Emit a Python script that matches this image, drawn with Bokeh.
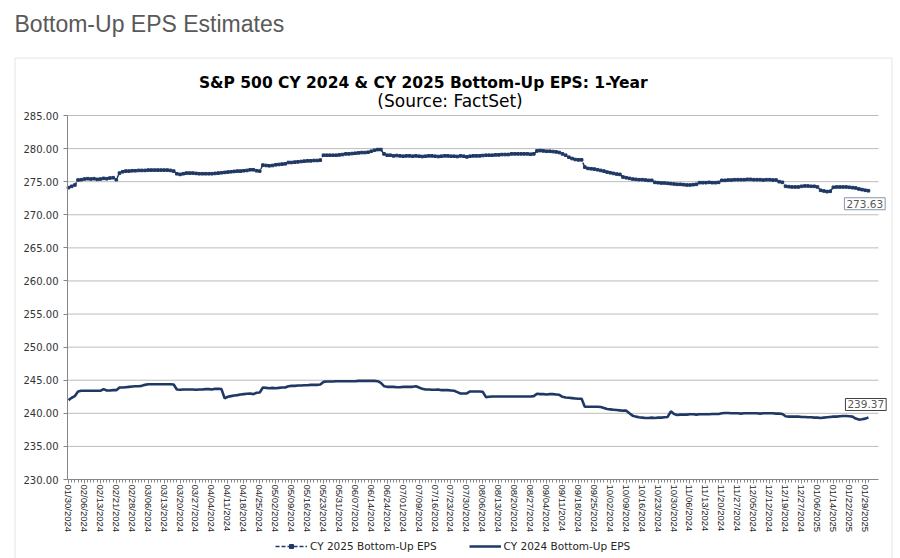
from bokeh.plotting import figure
from bokeh.models import (Range1d, FixedTicker, NumeralTickFormatter, Label, Legend,
                          LegendItem, BoxAnnotation)
from bokeh.embed import file_html
from bokeh.resources import INLINE

# ---------------- data ----------------
tick_labels = ["01/30/2024", "02/06/2024", "02/13/2024", "02/21/2024", "02/28/2024", "03/06/2024",
               "03/13/2024", "03/20/2024", "03/27/2024", "04/04/2024", "04/11/2024", "04/18/2024",
               "04/25/2024", "05/02/2024", "05/09/2024", "05/16/2024", "05/23/2024", "05/31/2024",
               "06/07/2024", "06/14/2024", "06/24/2024", "07/01/2024", "07/09/2024", "07/16/2024",
               "07/23/2024", "07/30/2024", "08/06/2024", "08/13/2024", "08/20/2024", "08/27/2024",
               "09/04/2024", "09/11/2024", "09/18/2024", "09/25/2024", "10/02/2024", "10/09/2024",
               "10/16/2024", "10/23/2024", "10/30/2024", "11/06/2024", "11/13/2024", "11/20/2024",
               "11/27/2024", "12/05/2024", "12/12/2024", "12/19/2024", "12/27/2024", "01/06/2025",
               "01/14/2025", "01/22/2025", "01/29/2025"]

cy2025_eps = [
    274.1, 274.3, 274.5, 275.25, 275.3, 275.4, 275.45, 275.4, 275.45, 275.35,
    275.4, 275.5, 275.45, 275.55, 275.6, 275.3, 276.3, 276.5, 276.6, 276.6,
    276.65, 276.65, 276.7, 276.7, 276.7, 276.75, 276.75, 276.75, 276.75, 276.75,
    276.75, 276.75, 276.7, 276.6, 276.2, 276.1, 276.2, 276.3, 276.3, 276.3,
    276.25, 276.2, 276.2, 276.2, 276.2, 276.2, 276.25, 276.3, 276.35, 276.4,
    276.45, 276.5, 276.55, 276.6, 276.6, 276.65, 276.7, 276.8, 276.8, 276.65,
    276.6, 277.5, 277.45, 277.4, 277.45, 277.55, 277.6, 277.65, 277.7, 277.9,
    277.9, 277.95, 278.0, 278.05, 278.1, 278.15, 278.15, 278.2, 278.2, 278.25,
    279.0, 279.0, 279.0, 279.0, 279.0, 279.05, 279.1, 279.2, 279.2, 279.25,
    279.3, 279.35, 279.4, 279.4, 279.45, 279.6, 279.75, 279.85, 279.85, 279.2,
    279.0, 279.0, 278.9, 278.95, 278.9, 278.85, 278.9, 278.9, 278.85, 278.9,
    278.85, 278.8, 278.85, 278.9, 278.9, 278.85, 278.8, 278.85, 278.9, 278.9,
    278.85, 278.85, 278.8, 278.9, 278.85, 278.75, 278.85, 278.9, 278.9, 278.9,
    278.95, 279.0, 279.0, 279.0, 279.05, 279.05, 279.1, 279.1, 279.1, 279.2,
    279.2, 279.2, 279.2, 279.2, 279.2, 279.15, 279.2, 279.65, 279.7, 279.65,
    279.6, 279.6, 279.55, 279.5, 279.4, 279.2, 279.0, 278.7, 278.5, 278.35,
    278.3, 278.3, 277.2, 277.0, 276.95, 276.9, 276.8, 276.7, 276.6, 276.45,
    276.35, 276.25, 276.15, 276.1, 275.7, 275.6, 275.5, 275.4, 275.35, 275.3,
    275.3, 275.25, 275.2, 275.2, 274.9, 274.85, 274.8, 274.8, 274.75, 274.7,
    274.65, 274.6, 274.6, 274.55, 274.5, 274.5, 274.55, 274.6, 274.85, 274.85,
    274.85, 274.9, 274.85, 274.85, 274.9, 275.2, 275.2, 275.25, 275.25, 275.3,
    275.3, 275.3, 275.3, 275.35, 275.35, 275.3, 275.3, 275.3, 275.25, 275.3,
    275.3, 275.25, 275.25, 275.0, 274.9, 274.3, 274.25, 274.2, 274.2, 274.2,
    274.3, 274.35, 274.35, 274.3, 274.3, 274.2, 273.7, 273.6, 273.5, 273.55,
    274.15, 274.2, 274.2, 274.2, 274.2, 274.15, 274.1, 274.05, 273.9, 273.8,
    273.7, 273.63,
]

cy2024_eps = [
    242.0, 242.35, 242.6, 243.3, 243.4, 243.4, 243.4, 243.4, 243.4, 243.4,
    243.4, 243.65, 243.45, 243.45, 243.5, 243.5, 243.9, 243.9, 243.95, 244.0,
    244.05, 244.1, 244.1, 244.15, 244.3, 244.4, 244.4, 244.4, 244.4, 244.4,
    244.4, 244.4, 244.4, 244.35, 243.6, 243.55, 243.6, 243.6, 243.6, 243.6,
    243.55, 243.6, 243.6, 243.65, 243.65, 243.6, 243.7, 243.7, 243.65, 242.25,
    242.5, 242.6, 242.7, 242.75, 242.85, 242.9, 242.95, 243.0, 242.9, 243.1,
    243.15, 243.9, 243.85, 243.8, 243.85, 243.8, 243.85, 243.9, 243.9, 244.1,
    244.15, 244.15, 244.2, 244.2, 244.25, 244.25, 244.3, 244.3, 244.3, 244.35,
    244.75, 244.8, 244.8, 244.8, 244.85, 244.85, 244.85, 244.85, 244.85, 244.85,
    244.85, 244.9, 244.9, 244.9, 244.9, 244.9, 244.9, 244.85, 244.6, 244.1,
    244.0, 244.0, 244.0, 243.95, 243.95, 244.0, 244.0, 244.0, 244.0, 244.1,
    243.9, 243.7, 243.6, 243.6, 243.55, 243.55, 243.6, 243.5, 243.5, 243.5,
    243.45, 243.4, 243.2, 243.0, 243.0, 243.0, 243.3, 243.3, 243.3, 243.3,
    243.25, 242.45, 242.5, 242.55, 242.55, 242.55, 242.55, 242.55, 242.55, 242.55,
    242.55, 242.55, 242.55, 242.55, 242.55, 242.55, 242.6, 242.95, 242.9, 242.9,
    242.85, 242.9, 242.9, 242.85, 242.8, 242.5, 242.4, 242.35, 242.3, 242.25,
    242.2, 242.2, 241.0, 241.0, 241.0, 241.0, 241.0, 240.95, 240.8, 240.65,
    240.6, 240.55, 240.5, 240.45, 240.4, 240.4, 240.0, 239.65, 239.5, 239.4,
    239.35, 239.3, 239.3, 239.35, 239.3, 239.35, 239.35, 239.4, 239.45, 240.3,
    239.9, 239.75, 239.8, 239.8, 239.8, 239.85, 239.85, 239.8, 239.85, 239.85,
    239.85, 239.85, 239.9, 239.9, 239.9, 240.0, 240.05, 240.05, 240.0, 240.0,
    240.0, 239.95, 240.0, 240.0, 240.0, 240.0, 240.0, 239.95, 240.0, 240.0,
    240.0, 240.0, 239.95, 239.95, 239.9, 239.55, 239.5, 239.5, 239.5, 239.5,
    239.45, 239.45, 239.4, 239.4, 239.35, 239.35, 239.3, 239.35, 239.4, 239.45,
    239.5, 239.5, 239.55, 239.6, 239.6, 239.55, 239.5, 239.2, 239.05, 239.1,
    239.2, 239.37,
]

series_names = ["CY 2025 Bottom-Up EPS", "CY 2024 Bottom-Up EPS"]
y_ticks = [230, 235, 240, 245, 250, 255, 260, 265, 270, 275, 280, 285]
page_title = "Bottom-Up EPS Estimates"
chart_title = "S&P 500 CY 2024 & CY 2025 Bottom-Up  EPS: 1-Year"
chart_subtitle = "(Source: FactSet)"

# ---------------- layout geometry (page pixels) ----------------
W, H = 900, 558
BOX_L, BOX_R, BOX_T = 14, 892, 57          # outer chart box
PLOT_L, PLOT_R, PLOT_T, PLOT_B = 67, 878, 115, 479
X0_PX, PX_PER_DAY = 68.0, 3.187            # first trading day position, spacing
Y_MIN, Y_MAX = 230.0, 285.0
PX_PER_UNIT = (PLOT_B - PLOT_T) / (Y_MAX - Y_MIN)


def xd(px):
    return (px - X0_PX) / PX_PER_DAY


def yd(py):
    return Y_MAX - (py - PLOT_T) / PX_PER_UNIT


# ---------------- styling ----------------
NAVY = "#1f3864"
FONT = "DejaVu Sans"
LAB_FONT = "Liberation Sans"
AXIS_GRAY = "#868686"
GRID_GRAY = "#bcbcbc"
BOX_GRAY = "#a6a6a6"

n = len(cy2025_eps)
xs = list(range(n))
tick_pos = [i * 5 for i in range(len(tick_labels))]

p = figure(width=W, height=H, output_backend="svg", toolbar_location=None, title=None,
           x_range=Range1d(xd(0), xd(W)), y_range=Range1d(yd(H), yd(0)),
           min_border_left=0, min_border_right=0, min_border_top=0, min_border_bottom=0)
p.outline_line_color = None
p.background_fill_color = "white"
p.border_fill_color = "white"
p.xgrid.visible = False
p.ygrid.visible = False

# outer chart box (its bottom edge lies below the page)
p.add_layout(BoxAnnotation(left=xd(BOX_L + 0.5), right=xd(BOX_R - 0.5), top=yd(BOX_T + 0.5),
                           bottom=yd(H + 20), fill_alpha=0, line_color=BOX_GRAY,
                           line_width=1, level="underlay"))

x_left, x_right = xd(PLOT_L), xd(PLOT_R)

# page title (outside the box)
p.add_layout(Label(x=xd(BOX_L), y=yd(23), text=page_title, text_align="left",
                   text_baseline="alphabetic", text_font=LAB_FONT, text_font_size="23px",
                   text_color="#595959"))

# chart title + subtitle (inside the box)
p.add_layout(Label(x=xd(425.5), y=yd(82), text=chart_title, text_align="center",
                   text_baseline="middle", text_font=FONT, text_font_size="15.5px",
                   text_font_style="bold", text_color="black"))
p.add_layout(Label(x=xd(449.5), y=yd(100), text=chart_subtitle, text_align="center",
                   text_baseline="middle", text_font=FONT, text_font_size="17px",
                   text_color="black"))

# horizontal grid lines
grid_vals = y_ticks[1:]
p.segment(x0=[x_left] * len(grid_vals), y0=grid_vals, x1=[x_right] * len(grid_vals),
          y1=grid_vals, line_color=GRID_GRAY, line_width=1)

# y axis
p.yaxis.fixed_location = x_left
p.yaxis.bounds = (Y_MIN, Y_MAX)
p.yaxis.ticker = FixedTicker(ticks=y_ticks)
p.yaxis.formatter = NumeralTickFormatter(format="0.00")
p.yaxis.axis_line_color = AXIS_GRAY
p.yaxis.major_tick_line_color = AXIS_GRAY
p.yaxis.major_tick_out = 4
p.yaxis.major_tick_in = 0
p.yaxis.minor_tick_line_color = None
p.yaxis.major_label_text_font = FONT
p.yaxis.major_label_text_font_size = "10px"
p.yaxis.major_label_text_color = "#333333"
p.yaxis.major_label_standoff = 5

# x axis
p.xaxis.fixed_location = Y_MIN
p.xaxis.bounds = (x_left, x_right)
p.xaxis.ticker = FixedTicker(ticks=tick_pos, minor_ticks=xs)
p.xaxis.major_label_overrides = {pos: lab for pos, lab in zip(tick_pos, tick_labels)}
p.xaxis.major_label_orientation = "vertical"
p.xaxis.axis_line_color = AXIS_GRAY
p.xaxis.major_tick_line_color = AXIS_GRAY
p.xaxis.minor_tick_line_color = AXIS_GRAY
p.xaxis.major_tick_out = 4
p.xaxis.major_tick_in = 0
p.xaxis.minor_tick_out = 3
p.xaxis.minor_tick_in = 0
p.xaxis.major_label_text_font = LAB_FONT
p.xaxis.major_label_text_font_size = "9.5px"
p.xaxis.major_label_text_color = "#222222"
p.xaxis.major_label_standoff = 1

# series
l25 = p.line(xs, cy2025_eps, line_color=NAVY, line_width=1.5, line_dash="4 2")
s25 = p.scatter(xs, cy2025_eps, marker="square", size=2.6, fill_color=NAVY, line_color=NAVY)
l24 = p.line(xs, cy2024_eps, line_color=NAVY, line_width=2.6)

# end-value labels
p.add_layout(Label(x=xs[-1], y=cy2025_eps[-1], text=f"{cy2025_eps[-1]:.2f}",
                   x_offset=-24, y_offset=-7, text_align="left", text_baseline="top",
                   text_font=FONT, text_font_size="10.5px", text_color="#595959",
                   padding=2, border_line_color="#8497b0", border_line_width=1,
                   background_fill_color="white"))
p.add_layout(Label(x=xs[-1], y=cy2024_eps[-1], text=f"{cy2024_eps[-1]:.2f}",
                   x_offset=-23, y_offset=19, text_align="left", text_baseline="top",
                   text_font=FONT, text_font_size="10.5px", text_color="#595959",
                   padding=2, border_line_color="#404040", border_line_width=1,
                   background_fill_color="white"))

legend = Legend(items=[LegendItem(label=series_names[0], renderers=[l25, s25]),
                       LegendItem(label=series_names[1], renderers=[l24])],
                orientation="horizontal", location=(275, 6),
                border_line_color=None, background_fill_alpha=0,
                label_text_font=FONT, label_text_font_size="10.5px", label_text_color="#262626",
                glyph_width=32, glyph_height=10, spacing=32, padding=0, margin=0,
                label_standoff=3, label_height=12)
p.add_layout(legend, "center")

open("out.html", "w").write(file_html(p, INLINE))
